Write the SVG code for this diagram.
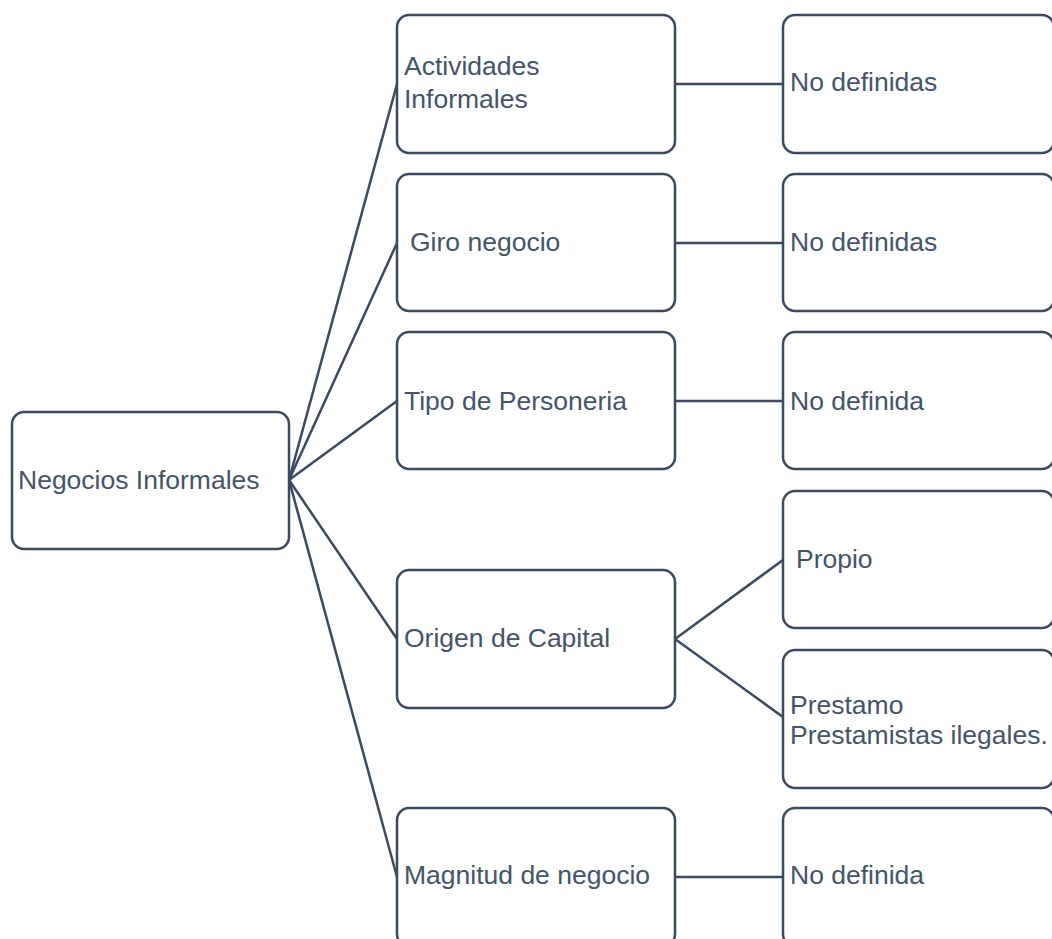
<svg xmlns="http://www.w3.org/2000/svg" width="1052" height="939" viewBox="0 0 1052 939">
<style>
.box{fill:#ffffff;stroke:#3b4a5f;stroke-width:2.5}
.lbl{font-family:"Liberation Sans",Arial,sans-serif;font-size:26.5px;fill:#44546a}
.con{stroke:#3b4a5f;stroke-width:2.5;fill:none}
</style>
<rect width="1052" height="939" fill="#ffffff"/>
<g id="connectors">
<line class="con" x1="289" y1="480" x2="397" y2="84"/>
<line class="con" x1="289" y1="480" x2="397" y2="243"/>
<line class="con" x1="289" y1="480" x2="397" y2="401"/>
<line class="con" x1="289" y1="480" x2="397" y2="639"/>
<line class="con" x1="289" y1="480" x2="397" y2="877"/>
<line class="con" x1="675" y1="84" x2="783" y2="84"/>
<line class="con" x1="675" y1="243" x2="783" y2="243"/>
<line class="con" x1="675" y1="401" x2="783" y2="401"/>
<line class="con" x1="675" y1="639" x2="783" y2="560"/>
<line class="con" x1="675" y1="639" x2="783" y2="717"/>
<line class="con" x1="675" y1="877" x2="783" y2="877"/>
</g>
<g id="root">
<rect class="box" x="12" y="412" width="277" height="137" rx="12"/>
<text class="lbl" x="18" y="489">Negocios Informales</text>
</g>
<g id="actividades">
<rect class="box" x="397" y="15" width="278" height="138" rx="12"/>
<text class="lbl" x="404" y="75">Actividades</text>
<text class="lbl" x="404" y="108">Informales</text>
</g>
<g id="giro">
<rect class="box" x="397" y="174" width="278" height="137" rx="12"/>
<text class="lbl" x="410" y="251">Giro negocio</text>
</g>
<g id="tipo">
<rect class="box" x="397" y="332" width="278" height="137" rx="12"/>
<text class="lbl" x="404" y="410">Tipo de Personeria</text>
</g>
<g id="origen">
<rect class="box" x="397" y="570" width="278" height="138" rx="12"/>
<text class="lbl" x="404" y="647">Origen de Capital</text>
</g>
<g id="magnitud">
<rect class="box" x="397" y="808" width="278" height="138" rx="12"/>
<text class="lbl" x="404" y="884">Magnitud de negocio</text>
</g>
<g id="nodef1">
<rect class="box" x="783" y="15" width="271" height="138" rx="12"/>
<text class="lbl" x="790" y="91">No definidas</text>
</g>
<g id="nodef2">
<rect class="box" x="783" y="174" width="271" height="137" rx="12"/>
<text class="lbl" x="790" y="251">No definidas</text>
</g>
<g id="nodef3">
<rect class="box" x="783" y="332" width="271" height="137" rx="12"/>
<text class="lbl" x="790" y="410">No definida</text>
</g>
<g id="propio">
<rect class="box" x="783" y="491" width="271" height="137" rx="12"/>
<text class="lbl" x="796" y="568">Propio</text>
</g>
<g id="prestamo">
<rect class="box" x="783" y="650" width="271" height="138" rx="12"/>
<text class="lbl" x="790" y="714">Prestamo</text>
<text class="lbl" x="790" y="744">Prestamistas ilegales.</text>
</g>
<g id="nodef4">
<rect class="box" x="783" y="808" width="271" height="138" rx="12"/>
<text class="lbl" x="790" y="884">No definida</text>
</g>
</svg>
